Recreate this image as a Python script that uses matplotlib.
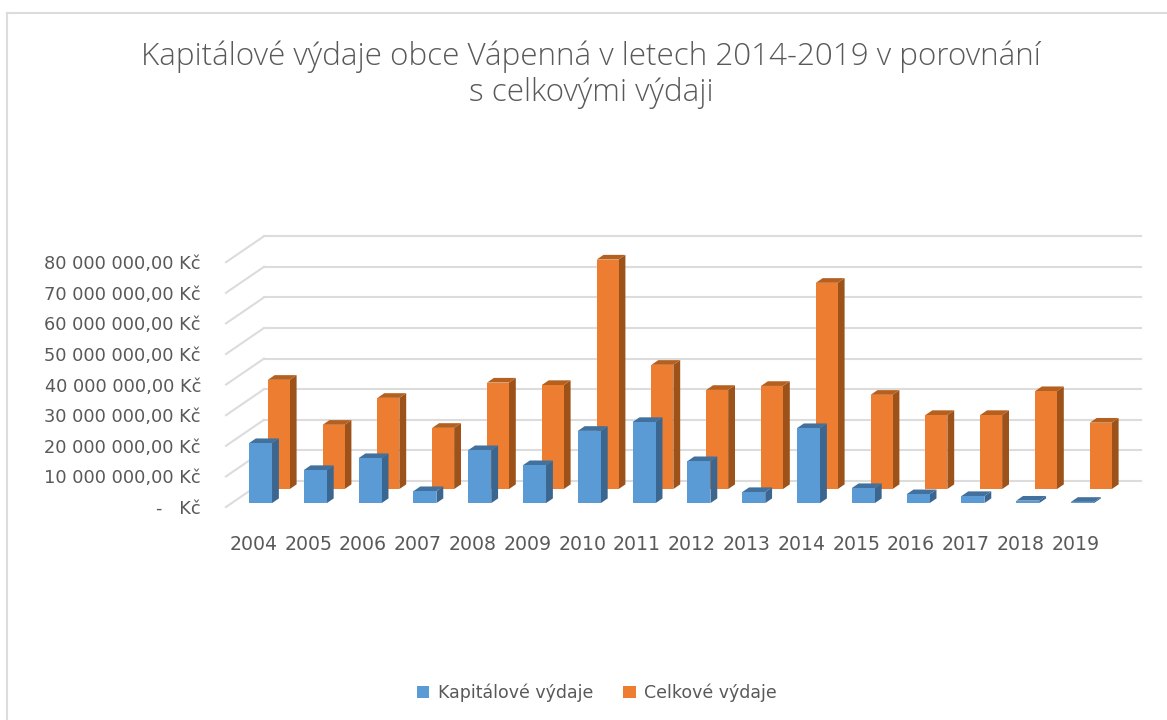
import matplotlib
matplotlib.use("Agg")
import matplotlib.pyplot as plt
from matplotlib.patches import Polygon, Patch

years = [2004, 2005, 2006, 2007, 2008, 2009, 2010, 2011, 2012, 2013, 2014, 2015, 2016, 2017, 2018, 2019]
kapitalove = [19.6, 10.8, 14.7, 3.9, 17.3, 12.4, 23.6, 26.5, 13.7, 3.6, 24.5, 4.9, 2.9, 2.3, 0.8, 0.4]
celkove = [35.7, 21.0, 29.8, 20.0, 34.8, 34.0, 75.0, 40.6, 32.4, 33.7, 67.4, 30.8, 24.2, 24.2, 32.0, 21.7]
y_ticks = [0, 10, 20, 30, 40, 50, 60, 70, 80]
y_labels = ["-   Kč", "10 000 000,00 Kč", "20 000 000,00 Kč", "30 000 000,00 Kč", "40 000 000,00 Kč",
            "50 000 000,00 Kč", "60 000 000,00 Kč", "70 000 000,00 Kč", "80 000 000,00 Kč"]
title = "Kapitálové výdaje obce Vápenná v letech 2014-2019 v porovnání\ns celkovými výdaji"

W, H = 1167, 720
TEXT = "#595959"
GRID = "#dcdcdc"

# shear of the fake 3D floor, in data units
DEPTH_X = 38 / 54.8
DEPTH_Y = 26 / 30.6 * 10

plt.rcParams["font.family"] = "DejaVu Sans"

fig = plt.figure(figsize=(W / 100, H / 100), dpi=100)
ax = fig.add_axes([226 / W, 1 - 507 / H, 54.8 * 16 / W, 244.8 / H])
ax.set_xlim(0, 16)
ax.set_ylim(0, 80)
ax.patch.set_alpha(0)
for s in ax.spines.values():
    s.set_visible(False)


def bar3d(x, value, width, front, depth, colors, z):
    # front and depth are fractions of the floor depth
    x0 = x + front * DEPTH_X
    y0 = front * DEPTH_Y
    dx = depth * DEPTH_X
    dy = depth * DEPTH_Y
    top = y0 + value
    face = [(x0, y0), (x0 + width, y0), (x0 + width, top), (x0, top)]
    side = [(x0 + width, y0), (x0 + width + dx, y0 + dy), (x0 + width + dx, top + dy), (x0 + width, top)]
    lid = [(x0, top), (x0 + width, top), (x0 + width + dx, top + dy), (x0 + dx, top + dy)]
    ax.add_patch(Polygon(side, closed=True, fc=colors[1], ec="none", zorder=z, clip_on=False))
    ax.add_patch(Polygon(lid, closed=True, fc=colors[2], ec="none", zorder=z, clip_on=False))
    ax.add_patch(Polygon(face, closed=True, fc=colors[0], ec="none", zorder=z, clip_on=False))


# walls
for t in y_ticks:
    ax.plot([0, DEPTH_X], [t, t + DEPTH_Y], color=GRID, lw=1.5, zorder=1, clip_on=False)
    ax.plot([DEPTH_X, 16 + DEPTH_X], [t + DEPTH_Y, t + DEPTH_Y], color=GRID, lw=1.5, zorder=1, clip_on=False)

blue = ("#5b9bd5", "#3a6690", "#41719c")
orange = ("#ed7d31", "#9c5219", "#b5601f")
for i, (k, c) in enumerate(zip(kapitalove, celkove)):
    bar3d(i + 0.285, c, 0.40, 0.69, 0.18, orange, 2)
    bar3d(i + 0.316, k, 0.42, 0.15, 0.18, blue, 3)

ax.set_xticks([i + 0.5 for i in range(len(years))])
ax.set_xticklabels(years)
ax.set_yticks(y_ticks)
ax.set_yticklabels(y_labels)
ax.tick_params(axis="y", length=0, pad=18, labelsize=12.8, labelcolor=TEXT)
ax.tick_params(axis="x", length=0, pad=20, labelsize=13.6, labelcolor=TEXT)

fig.text(591 / W, 1 - 75 / H, title, ha="center", va="center", fontsize=22.6, color=TEXT, linespacing=1.18,
         family="Open Sans", fontweight="light")

handles = [Patch(fc=blue[0], label="Kapitálové výdaje"), Patch(fc=orange[0], label="Celkové výdaje")]
fig.legend(handles=handles, loc="center", bbox_to_anchor=(597 / W, 1 - 693 / H), ncol=2, frameon=False,
           fontsize=12.5, labelcolor=TEXT, handlelength=0.72, handleheight=0.72, columnspacing=1.7, handletextpad=0.5)

# chart frame
fig.add_artist(plt.Line2D([7 / W, 7 / W], [0, 1 - 13 / H], color=GRID, lw=1.5))
fig.add_artist(plt.Line2D([7 / W, 1], [1 - 13 / H, 1 - 13 / H], color=GRID, lw=1.5))

fig.savefig("out.png", dpi=100)
